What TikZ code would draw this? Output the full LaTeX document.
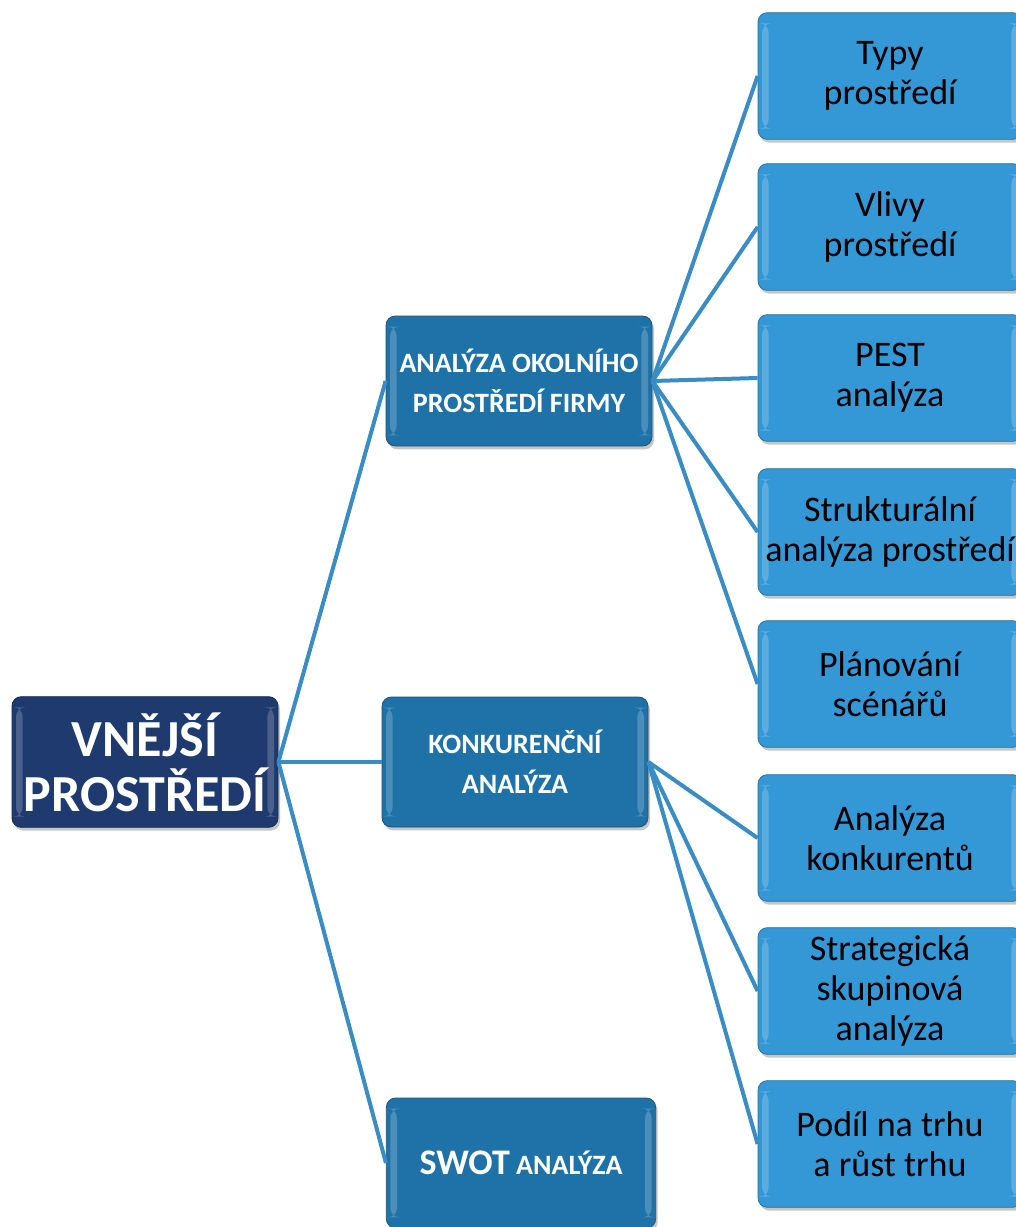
\documentclass[tikz,border=0pt]{standalone}
\usepackage{fontspec}
\setmainfont{Carlito}
\usetikzlibrary{shadows}
\definecolor{rootblue}{RGB}{30,58,110}
\definecolor{midblue}{RGB}{31,114,168}
\definecolor{leafblue}{RGB}{52,152,214}
\definecolor{linkblue}{RGB}{58,140,196}

\begin{document}
\begin{tikzpicture}[x=0.75pt,y=-0.75pt,
    box/.style={rectangle,rounded corners=7pt,align=center,inner sep=2pt,
      draw=#1!75!black,line width=0.6pt,fill=#1,
      drop shadow={shadow xshift=1.5pt,shadow yshift=-2.5pt,opacity=0.45},
      path picture={
        \fill[white,opacity=0.2] ([xshift=3pt,yshift=-8pt]path picture bounding box.north west)
          rectangle ([xshift=8pt,yshift=8pt]path picture bounding box.south west);
        \fill[white,opacity=0.2] ([xshift=-8pt,yshift=-8pt]path picture bounding box.north east)
          rectangle ([xshift=-3pt,yshift=8pt]path picture bounding box.south east);}},
    rootbox/.style={box=rootblue,minimum width=199.5pt,minimum height=98pt,
      text=white,font=\bfseries\fontsize{39}{41}\selectfont},
    midbox/.style={box=midblue,minimum width=199.5pt,minimum height=97.5pt,
      text=white,font=\bfseries\fontsize{21}{30}\selectfont},
    leafbox/.style={box=leafblue,minimum width=198pt,minimum height=95pt,
      text=black,font=\fontsize{27}{30}\selectfont},
    link/.style={linkblue,line width=3pt}]
  \useasboundingbox (0,0) rectangle (1016,1227);
  \clip (0,0) rectangle (1016,1227);

  % root and second level
  \node[rootbox] (vnejsi) at (145,762) {VNĚJŠÍ\\PROSTŘEDÍ};
  \node[midbox] (okoli) at (519,381) {ANALÝZA OKOLNÍHO\\PROSTŘEDÍ FIRMY};
  \node[midbox] (konkur) at (515,762) {KONKURENČNÍ\\ANALÝZA};
  \node[midbox,minimum width=202pt] (swot) at (521,1163)
    {{\fontsize{27}{30}\selectfont SWOT} ANALÝZA};

  % leaves
  \foreach \nm/\yy/\txt in {typy/76/{Typy\\prostředí},
      vlivy/227/{Vlivy\\prostředí},
      pest/378/{PEST\\analýza},
      strukt/532/{Strukturální\\analýza prostředí},
      plan/684/{Plánování\\scénářů},
      konk/838/{Analýza\\konkurentů},
      skup/991/{Strategická\\skupinová\\analýza},
      trh/1144/{Podíl na trhu\\a růst trhu}}
    \node[leafbox] (\nm) at (890,\yy) {\txt};

  % connectors
  \foreach \nm in {okoli,konkur,swot}
    \draw[link] (vnejsi.east) -- (\nm.west);
  \foreach \nm in {typy,vlivy,pest,strukt,plan}
    \draw[link] (okoli.east) -- (\nm.west);
  \foreach \nm in {konk,skup,trh}
    \draw[link] (konkur.east) -- (\nm.west);
\end{tikzpicture}
\end{document}
